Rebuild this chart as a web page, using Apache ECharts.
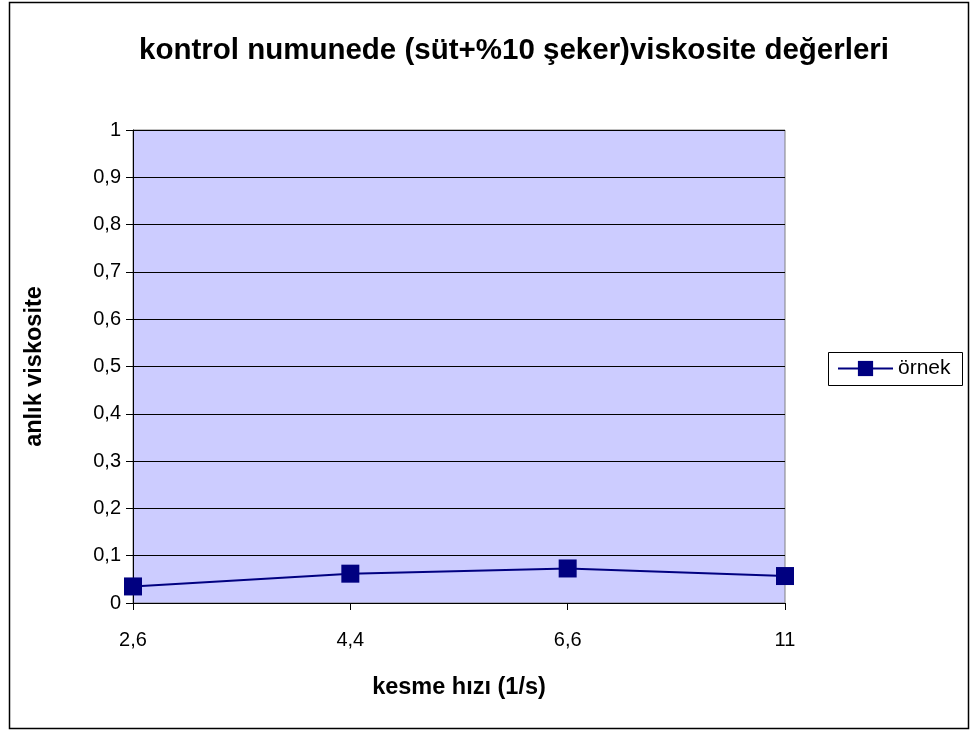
<!DOCTYPE html>
<html>
<head>
<meta charset="utf-8">
<script src="https://cdn.jsdelivr.net/npm/echarts@6/dist/echarts.min.js"></script>
<style>
    html, body { margin: 0; padding: 0; background: #fff; }
    #main { width: 971px; height: 731px; }
</style>
</head>
<body>
<div id="main"></div>
<script>
// veriler
const categories = ['2,6', '4,4', '6,6', '11']
const ornekValues = [0.035, 0.062, 0.073, 0.057]
const yTicks = [0, 0.1, 0.2, 0.3, 0.4, 0.5, 0.6, 0.7, 0.8, 0.9, 1]

const chart = echarts.init(document.getElementById('main'))
const font = 'Liberation Sans, Arial, sans-serif'

const option = {
    animation: false,
    backgroundColor: '#fff',
    title: {
        text: 'kontrol numunede (süt+%10 şeker)viskosite değerleri',
        left: 509,
        top: 31,
        textAlign: 'center',
        textStyle: { fontFamily: font, fontSize: 29.5, fontWeight: 'bold', color: '#000' }
    },
    graphic: [
        {
            type: 'rect',
            shape: { x: 9.5, y: 2.5, width: 959, height: 726 },
            style: { fill: 'none', stroke: '#000', lineWidth: 1.5 },
            silent: true
        },
        {
            type: 'rect',
            shape: { x: 828.5, y: 352.5, width: 134, height: 33 },
            style: { fill: '#fff', stroke: '#000', lineWidth: 1 },
            z: 0
        }
    ],
    legend: {
        data: ['örnek'],
        left: 837,
        top: 358,
        itemWidth: 55,
        itemHeight: 19,
        padding: 0,
        textStyle: { fontFamily: font, fontSize: 21, color: '#000' },
        z: 5
    },
    grid: {
        left: 133,
        right: 186,
        top: 130,
        bottom: 128,
        show: true,
        backgroundColor: '#ccccff',
        borderColor: '#808080',
        borderWidth: 1
    },
    xAxis: {
        type: 'category',
        data: categories,
        boundaryGap: false,
        name: 'kesme hızı (1/s)',
        nameLocation: 'middle',
        nameGap: 73,
        nameTextStyle: { fontFamily: font, fontSize: 23.5, fontWeight: 'bold', color: '#000' },
        axisLine: { lineStyle: { color: '#000', width: 1 } },
        axisTick: { show: true, length: 7, lineStyle: { color: '#000' } },
        axisLabel: { fontFamily: font, fontSize: 20, color: '#000', margin: 27 },
        splitLine: { show: false }
    },
    yAxis: {
        type: 'value',
        min: yTicks[0],
        max: yTicks[yTicks.length - 1],
        interval: 0.1,
        name: 'anlık viskosite',
        nameLocation: 'middle',
        nameGap: 86,
        nameTextStyle: { fontFamily: font, fontSize: 23.5, fontWeight: 'bold', color: '#000' },
        axisLine: { show: true, lineStyle: { color: '#000', width: 1 } },
        axisTick: { show: true, length: 7, lineStyle: { color: '#000' } },
        axisLabel: {
            fontFamily: font, fontSize: 20, color: '#000', margin: 12,
            formatter: v => String(Math.round(v * 10) / 10).replace('.', ',')
        },
        splitLine: { show: true, lineStyle: { color: '#000', width: 1 } }
    },
    series: [
        {
            name: 'örnek',
            type: 'line',
            data: ornekValues,
            symbol: 'rect',
            symbolSize: 18,
            lineStyle: { color: '#000080', width: 2 },
            itemStyle: { color: '#000080' }
        }
    ]
}

chart.setOption(option)
</script>
</body>
</html>
